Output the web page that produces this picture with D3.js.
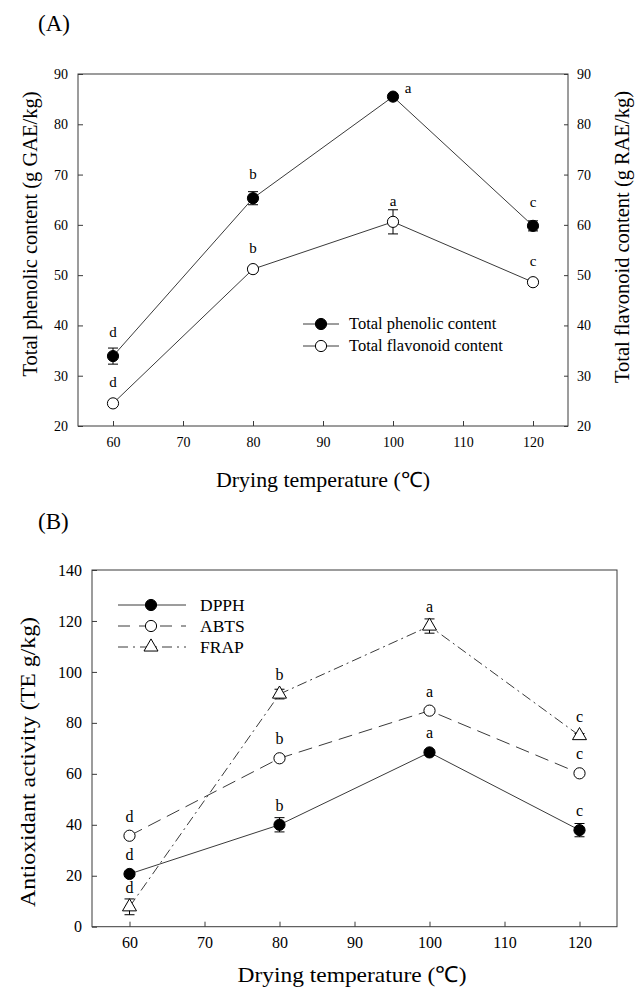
<!DOCTYPE html>
<html>
<head>
<meta charset="utf-8">
<script src="https://cdn.jsdelivr.net/npm/d3@7"></script>
<style>
    body { margin: 0; background: #fff; }
    text { font-family: "Liberation Serif", "Times New Roman", serif; fill: #000; }
</style>
</head>
<body>
<div id="chart"></div>
<script>
// panel A
const temps = [60, 80, 100, 120];
const phenolic = [33.9, 65.3, 85.5, 59.8];
const phenolicSd = [1.6, 1.3, 0.6, 1.0];
const phenolicLetters = ["d", "b", "a", "c"];
const flavonoid = [24.5, 51.2, 60.6, 48.6];
const flavonoidSd = [0.6, 0.5, 2.4, 0.6];
const flavonoidLetters = ["d", "b", "a", "c"];

// panel B
const dpph = [20.7, 40.0, 68.4, 37.9];
const dpphSd = [1.0, 2.8, 1.0, 2.6];
const dpphLetters = ["d", "b", "a", "c"];
const abts = [35.7, 66.1, 84.8, 60.2];
const abtsSd = [0.5, 0.8, 0.8, 0.6];
const abtsLetters = ["d", "b", "a", "c"];
const frap = [7.8, 91.3, 118.0, 75.0];
const frapSd = [3.1, 1.9, 2.8, 0.8];
const frapLetters = ["d", "b", "a", "c"];

const xTicks = [60, 70, 80, 90, 100, 110, 120];
const yTicksA = [20, 30, 40, 50, 60, 70, 80, 90];
const yTicksB = [0, 20, 40, 60, 80, 100, 120, 140];

const lineColor = "#3a3a3a";

const svg = d3.select("#chart")
    .append("svg")
    .attr("width", 642)
    .attr("height", 989);

svg.append("rect").attr("width", 642).attr("height", 989).attr("fill", "#fff");

function drawSeries(g, x, y, values, sds, letters, opts) {
    let pts = temps.map((t, i) => ({t: t, v: values[i], sd: sds[i], letter: letters[i]}));

    g.append("path")
        .datum(pts)
        .attr("fill", "none")
        .attr("stroke", lineColor)
        .attr("stroke-width", 1)
        .attr("stroke-dasharray", opts.dash || null)
        .attr("d", d3.line().x(d => x(d.t)).y(d => y(d.v)));

    let err = g.selectAll(null).data(pts).enter().append("g").attr("stroke", "#000").attr("stroke-width", 1);
    err.append("line")
        .attr("x1", d => x(d.t)).attr("x2", d => x(d.t))
        .attr("y1", d => y(d.v - d.sd)).attr("y2", d => y(d.v + d.sd));
    err.append("line")
        .attr("x1", d => x(d.t) - 5).attr("x2", d => x(d.t) + 5)
        .attr("y1", d => y(d.v + d.sd)).attr("y2", d => y(d.v + d.sd));
    err.append("line")
        .attr("x1", d => x(d.t) - 5).attr("x2", d => x(d.t) + 5)
        .attr("y1", d => y(d.v - d.sd)).attr("y2", d => y(d.v - d.sd));

    drawMarkers(g, pts.map(d => [x(d.t), y(d.v)]), opts.marker);

    // significance letters, the peak one of phenolic sits to the right
    g.selectAll(null).data(pts).enter().append("text")
        .attr("x", d => x(d.t) + (opts.letterSide && d.t === 100 ? 15 : 0))
        .attr("y", d => y(d.v) + (opts.letterSide && d.t === 100 ? -4 : -opts.letterGap))
        .attr("text-anchor", "middle")
        .style("font-size", opts.letterSize + "px")
        .text(d => d.letter);
}

function drawMarkers(g, xy, marker) {
    if (marker === "triangle") {
        g.selectAll(null).data(xy).enter().append("path")
            .attr("transform", d => `translate(${d[0]},${d[1]})`)
            .attr("d", d3.symbol().type(d3.symbolTriangle).size(85))
            .attr("fill", "#fff")
            .attr("stroke", "#000")
            .attr("stroke-width", 1);
    } else {
        g.selectAll(null).data(xy).enter().append("circle")
            .attr("cx", d => d[0]).attr("cy", d => d[1])
            .attr("r", 5.6)
            .attr("fill", marker === "filled" ? "#000" : "#fff")
            .attr("stroke", "#000")
            .attr("stroke-width", 1);
    }
}

function frame(g, x, y) {
    let [x0, x1] = x.range();
    let [y0, y1] = y.range();
    g.append("rect")
        .attr("x", x0).attr("y", y1)
        .attr("width", x1 - x0).attr("height", y0 - y1)
        .attr("fill", "none")
        .attr("stroke", lineColor)
        .attr("stroke-width", 1);
}

function styleAxis(sel, size) {
    sel.select(".domain").remove();
    sel.selectAll("line").attr("stroke", lineColor);
    sel.selectAll("text").style("font-size", size + "px").attr("font-family", null);
}

function title(g, x, y, rotate, size, len, label) {
    g.append("text")
        .attr("transform", `translate(${x}, ${y})` + (rotate ? " rotate(-90)" : ""))
        .attr("text-anchor", "middle")
        .attr("textLength", len)
        .attr("lengthAdjust", "spacingAndGlyphs")
        .style("font-size", size + "px")
        .text(label);
}

// ---------- (A) ----------
let xA = d3.scaleLinear().domain([55, 125]).range([78, 568]);
let yA = d3.scaleLinear().domain([20, 90]).range([426, 74]);
let gA = svg.append("g");

svg.append("text").attr("x", 38).attr("y", 31).style("font-size", "23px").text("(A)");

frame(gA, xA, yA);

gA.append("g")
    .attr("transform", `translate(0, ${yA.range()[0]})`)
    .call(d3.axisBottom(xA).tickValues(xTicks).tickSizeInner(-5).tickSizeOuter(0).tickPadding(11))
    .call(s => styleAxis(s, 14));

gA.append("g")
    .attr("transform", `translate(${xA.range()[0]}, 0)`)
    .call(d3.axisLeft(yA).tickValues(yTicksA).tickSizeInner(-5).tickSizeOuter(0).tickPadding(10))
    .call(s => styleAxis(s, 14));

gA.append("g")
    .attr("transform", `translate(${xA.range()[1]}, 0)`)
    .call(d3.axisRight(yA).tickValues(yTicksA).tickSizeInner(-4).tickSizeOuter(0).tickPadding(9))
    .call(s => styleAxis(s, 14));

drawSeries(gA, xA, yA, flavonoid, flavonoidSd, flavonoidLetters, {marker: "open", letterGap: 16, letterSize: 15});
drawSeries(gA, xA, yA, phenolic, phenolicSd, phenolicLetters, {marker: "filled", letterGap: 19, letterSize: 15, letterSide: true});

title(gA, 37, 234, true, 20, 285, "Total phenolic content (g GAE/kg)");
title(gA, 629, 237, true, 20, 292, "Total flavonoid content (g RAE/kg)");
title(gA, 323, 487, false, 21, 214, "Drying temperature (℃)");

// legend A
let legendA = [
    {name: "Total phenolic content", marker: "filled"},
    {name: "Total flavonoid content", marker: "open"}
];
legendA.forEach((d, i) => {
    let ly = 324 + i * 22;
    gA.append("line").attr("x1", 303).attr("x2", 339).attr("y1", ly).attr("y2", ly)
        .attr("stroke", lineColor).attr("stroke-width", 1);
    drawMarkers(gA, [[321, ly]], d.marker);
    gA.append("text").attr("x", 349).attr("y", ly + 5).style("font-size", "16.5px").text(d.name);
});

// ---------- (B) ----------
let xB = d3.scaleLinear().domain([55, 125]).range([92, 617]);
let yB = d3.scaleLinear().domain([0, 140]).range([926.7, 570]);
let gB = svg.append("g");

svg.append("text").attr("x", 38).attr("y", 529).style("font-size", "23px").text("(B)");

frame(gB, xB, yB);

gB.append("g")
    .attr("transform", `translate(0, ${yB.range()[0]})`)
    .call(d3.axisBottom(xB).tickValues(xTicks).tickSizeInner(-5).tickSizeOuter(0).tickPadding(10))
    .call(s => styleAxis(s, 16));

gB.append("g")
    .attr("transform", `translate(${xB.range()[0]}, 0)`)
    .call(d3.axisLeft(yB).tickValues(yTicksB).tickSizeInner(-5).tickSizeOuter(0).tickPadding(10))
    .call(s => styleAxis(s, 16));

drawSeries(gB, xB, yB, frap, frapSd, frapLetters, {marker: "triangle", dash: "10,4,2,4", letterGap: 14, letterSize: 16});
drawSeries(gB, xB, yB, abts, abtsSd, abtsLetters, {marker: "open", dash: "14,7", letterGap: 14, letterSize: 16});
drawSeries(gB, xB, yB, dpph, dpphSd, dpphLetters, {marker: "filled", letterGap: 14, letterSize: 16});

title(gB, 35, 762, true, 21, 290, "Antioxidant activity (TE g/kg)");
title(gB, 352, 982, false, 22, 229, "Drying temperature (℃)");

// legend B
let legendB = [
    {name: "DPPH", marker: "filled", dash: null},
    {name: "ABTS", marker: "open", dash: "12,9"},
    {name: "FRAP", marker: "triangle", dash: "10,5,2,5"}
];
legendB.forEach((d, i) => {
    let ly = 605 + i * 21;
    gB.append("line").attr("x1", 118).attr("x2", 186).attr("y1", ly).attr("y2", ly)
        .attr("stroke", lineColor).attr("stroke-width", 1)
        .attr("stroke-dasharray", d.dash);
    drawMarkers(gB, [[151, ly]], d.marker);
    gB.append("text").attr("x", 200).attr("y", ly + 6).style("font-size", "17.5px").text(d.name);
});
</script>
</body>
</html>
